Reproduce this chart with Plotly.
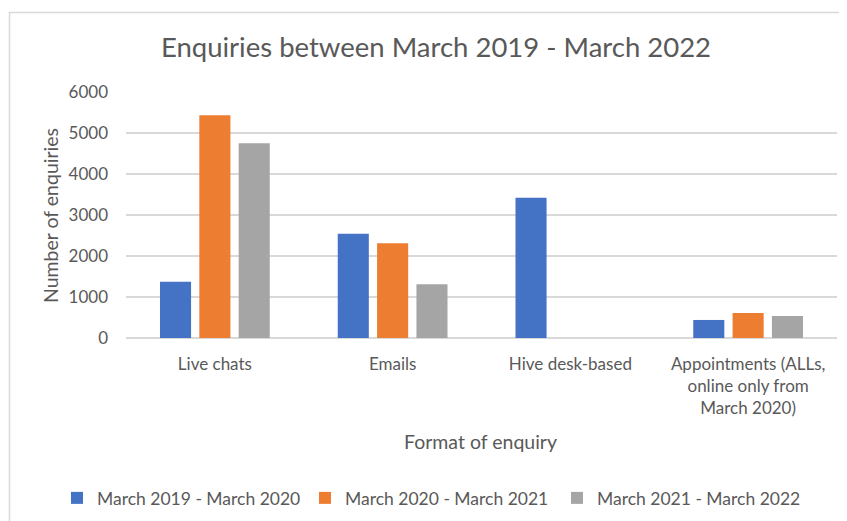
import plotly.graph_objects as go

categories = ["Live chats", "Emails", "Hive desk-based",
              "Appointments (ALLs,<br>online only from<br>March 2020)"]
series_names = ["March 2019 - March 2020", "March 2020 - March 2021", "March 2021 - March 2022"]
values_2019_20 = [1370, 2540, 3420, 440]
values_2020_21 = [5430, 2310, None, 610]
values_2021_22 = [4750, 1310, None, 535]
colors = ["#4472C4", "#ED7D31", "#A5A5A5"]
y_ticks = [0, 1000, 2000, 3000, 4000, 5000, 6000]

FONT = "Lato, Open Sans, sans-serif"
GREY = "#595959"

# page body has an 8px margin; figure coordinates = screen coordinates - 8
OFF = 8
W, H = 847 - OFF, 521 - OFF
L, R, T, B = 126 - OFF, 10, 92 - OFF, 183
ph = H - T - B
pw = W - L - R

def py(sy):
    return (H - B - (sy - OFF)) / ph

def pxx(sx):
    return ((sx - OFF) - L) / pw

legend_names = ["legend", "legend2", "legend3"]
fig = go.Figure()
for name, vals, col, lg in zip(series_names, [values_2019_20, values_2020_21, values_2021_22],
                               colors, legend_names):
    fig.add_trace(go.Bar(x=categories, y=vals, name=name, legend=lg, showlegend=True,
                         marker=dict(color=col, line=dict(width=0))))

legend_left = [57, 305, 557]
legend_common = dict(orientation="h", yanchor="middle", y=py(498), xanchor="left",
                     font=dict(size=17.5, color=GREY, family=FONT), itemwidth=30,
                     bgcolor="rgba(0,0,0,0)", visible=True)

fig.update_layout(
    width=W, height=H, showlegend=True,
    margin=dict(l=L, r=R, t=T, b=B, autoexpand=False),
    paper_bgcolor="white", plot_bgcolor="white",
    barmode="group", bargap=0.336, bargroupgap=0.21,
    font=dict(family=FONT, color=GREY, size=17),
    title=dict(text="Enquiries between March 2019 - March 2022",
               x=(436 - OFF) / W, xref="container", xanchor="center",
               y=1 - (47 - OFF) / H, yref="container", yanchor="middle",
               font=dict(size=27.5, color=GREY, family=FONT)),
    xaxis=dict(showgrid=False, showline=False, ticks="", tickfont=dict(size=17, color=GREY),
               ticklabelstandoff=14, automargin=False),
    yaxis=dict(range=[0, 6000], tickvals=y_ticks, showgrid=True, gridcolor="#D9D9D9", gridwidth=1.5,
               zeroline=True, zerolinecolor="#D9D9D9", zerolinewidth=1.5, automargin=False,
               tickfont=dict(size=17, color=GREY), ticks="", ticklabelstandoff=17),
    legend=dict(x=pxx(legend_left[0]), **legend_common),
    legend2=dict(x=pxx(legend_left[1]), **legend_common),
    legend3=dict(x=pxx(legend_left[2]), **legend_common),
    annotations=[
        dict(text="Number of enquiries", xref="paper", yref="paper", x=pxx(50), y=py(216),
             textangle=-90, showarrow=False, xanchor="center", yanchor="middle",
             font=dict(size=19.5, color=GREY, family=FONT)),
        dict(text="Format of enquiry", xref="paper", yref="paper", x=pxx(480), y=py(441),
             showarrow=False, xanchor="center", yanchor="middle",
             font=dict(size=19.5, color=GREY, family=FONT)),
    ],
    shapes=[dict(type="rect", xref="paper", yref="paper", x0=pxx(9.5), x1=pxx(900),
                 y0=py(600), y1=py(12.5), line=dict(color="#D9D9D9", width=1.5), layer="below")],
)

fig.write_html("out.html")
